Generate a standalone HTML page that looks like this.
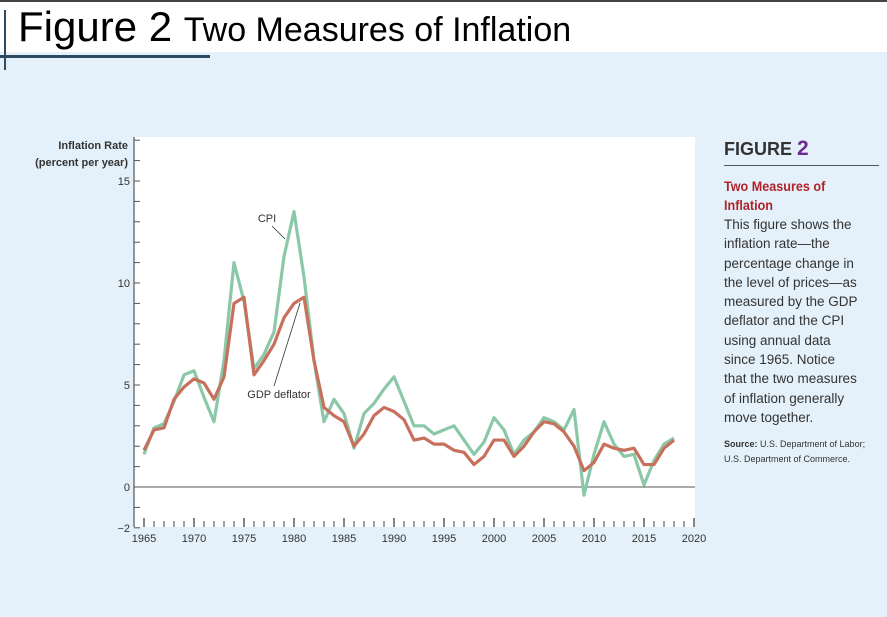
<!DOCTYPE html>
<html><head><meta charset="utf-8"><style>
body{margin:0;width:887px;height:617px;overflow:hidden;background:#e4f1fa;font-family:"Liberation Sans",sans-serif;position:relative}
.abs{position:absolute}
</style></head><body>
<div class="abs" style="left:0;top:0;width:887px;height:2px;background:#444"></div>
<div class="abs" style="left:0;top:2px;width:887px;height:50px;background:#fff"></div>
<div class="abs" style="left:4px;top:10px;width:2px;height:60px;background:#2e4a60"></div>
<div class="abs" style="left:0;top:55px;width:210px;height:3px;background:#2e4a60"></div>
<div class="abs" style="left:18px;top:3px;font-size:42px;color:#000;white-space:nowrap">Figure 2 <span style="font-size:34px">Two Measures of Inflation</span></div>
<svg class="abs" style="left:0;top:0" width="887" height="617">
<rect x="134" y="137" width="561" height="390" fill="#fff"/>
<g id="axes"></g>
<g id="series"></g>
</svg>
<div class="abs" style="left:724px;top:137px;width:155px;color:#333">
<div style="font-size:18px;font-weight:bold;color:#333;padding-bottom:4px;border-bottom:1px solid #555">FIGURE <span style="color:#6a2c91;font-size:21px">2</span></div>
<div style="margin-top:11px;font-size:14px;font-weight:bold;color:#b0232a;line-height:19px;transform:scaleX(0.9);transform-origin:left">Two Measures of<br>Inflation</div>
<div style="font-size:13.5px;line-height:19.3px;color:#333;white-space:nowrap">This figure shows the<br>inflation rate—the<br>percentage change in<br>the level of prices—as<br>measured by the GDP<br>deflator and the CPI<br>using annual data<br>since 1965. Notice<br>that the two measures<br>of inflation generally<br>move together.</div>
<div style="margin-top:10px;font-size:9px;line-height:15px;color:#333;white-space:nowrap"><b>Source:</b> U.S. Department of Labor;<br>U.S. Department of Commerce.</div>
</div>
<script>
const years=[];for(let y=1965;y<=2018;y++)years.push(y);
const cpiValues=[1.6,2.9,3.1,4.2,5.5,5.7,4.4,3.2,6.2,11.0,9.1,5.8,6.5,7.6,11.3,13.5,10.3,6.2,3.2,4.3,3.6,1.9,3.6,4.1,4.8,5.4,4.2,3.0,3.0,2.6,2.8,3.0,2.3,1.6,2.2,3.4,2.8,1.6,2.3,2.7,3.4,3.2,2.8,3.8,-0.4,1.6,3.2,2.1,1.5,1.6,0.1,1.3,2.1,2.4];
const gdpValues=[1.8,2.8,2.9,4.3,4.9,5.3,5.1,4.3,5.4,9.0,9.3,5.5,6.2,7.0,8.3,9.0,9.3,6.2,3.9,3.5,3.2,2.0,2.6,3.5,3.9,3.7,3.3,2.3,2.4,2.1,2.1,1.8,1.7,1.1,1.5,2.3,2.3,1.5,2.0,2.7,3.2,3.1,2.7,2.0,0.8,1.2,2.1,1.9,1.8,1.9,1.1,1.1,1.9,2.3];
const xTickLabels=[1965,1970,1975,1980,1985,1990,1995,2000,2005,2010,2015,2020];
const yTickLabels=[15,10,5,0,-2];
const NS="http://www.w3.org/2000/svg";
const xs=y=>144+(y-1965)*10;
const ys=v=>487-v*20.4;
function mk(tag,attrs,parent,text){const e=document.createElementNS(NS,tag);for(const k in attrs)e.setAttribute(k,attrs[k]);if(text!==undefined)e.textContent=text;parent.appendChild(e);return e;}
const ax=document.getElementById('axes');
const axisY=mk('line',{x1:134,y1:137,x2:134,y2:527,stroke:'#333','stroke-width':1},ax);


for(let v=-2;v<=17;v++){const t=mk('line',{x1:134,y1:ys(v),x2:140,y2:ys(v),stroke:'#555','stroke-width':1},ax);

}
yTickLabels.forEach(v=>{const t=mk('text',{x:130,y:ys(v)+4,'text-anchor':'end','font-size':11,fill:'#333','font-family':'Liberation Sans, sans-serif'},ax,v<0?'\u2212'+(-v):String(v));

});
const zl=mk('line',{x1:134,y1:ys(0),x2:695,y2:ys(0),stroke:'#555','stroke-width':1},ax);


for(let y=1965;y<=2020;y++){const big=(y%5===0);const t=mk('line',{x1:xs(y),y1:527,x2:xs(y),y2:big?518:521,stroke:'#444','stroke-width':big?1.3:1},ax);

}
xTickLabels.forEach(y=>{const t=mk('text',{x:xs(y),y:542,'text-anchor':'middle','font-size':11,fill:'#333','font-family':'Liberation Sans, sans-serif'},ax,String(y));

});
const yt=mk('text',{x:128,y:149,'text-anchor':'end','font-size':11,'font-weight':'bold',fill:'#333','font-family':'Liberation Sans, sans-serif'},ax,'Inflation Rate');


const yt2=mk('text',{x:128,y:166,'text-anchor':'end','font-size':11,'font-weight':'bold',fill:'#333','font-family':'Liberation Sans, sans-serif'},ax,'(percent per year)');


const sg=document.getElementById('series');
function pts(vals){return vals.map((v,i)=>xs(years[i])+','+ys(v)).join(' ');}
const cpi=mk('polyline',{points:pts(cpiValues),fill:'none',stroke:'#8ac8a8','stroke-width':3.2,'stroke-linejoin':'round'},sg);


const gdp=mk('polyline',{points:pts(gdpValues),fill:'none',stroke:'#c7705c','stroke-width':3.2,'stroke-linejoin':'round'},sg);


const l1=mk('text',{x:267,y:222,'text-anchor':'middle','font-size':11,fill:'#333','font-family':'Liberation Sans, sans-serif'},sg,'CPI');


const c1=mk('line',{x1:272,y1:226,x2:285,y2:239,stroke:'#333','stroke-width':0.8},sg);


const l2=mk('text',{x:279,y:398,'text-anchor':'middle','font-size':11,fill:'#333','font-family':'Liberation Sans, sans-serif'},sg,'GDP deflator');


const c2=mk('line',{x1:274,y1:386,x2:300,y2:303,stroke:'#333','stroke-width':0.8},sg);


</script>
</body></html>
